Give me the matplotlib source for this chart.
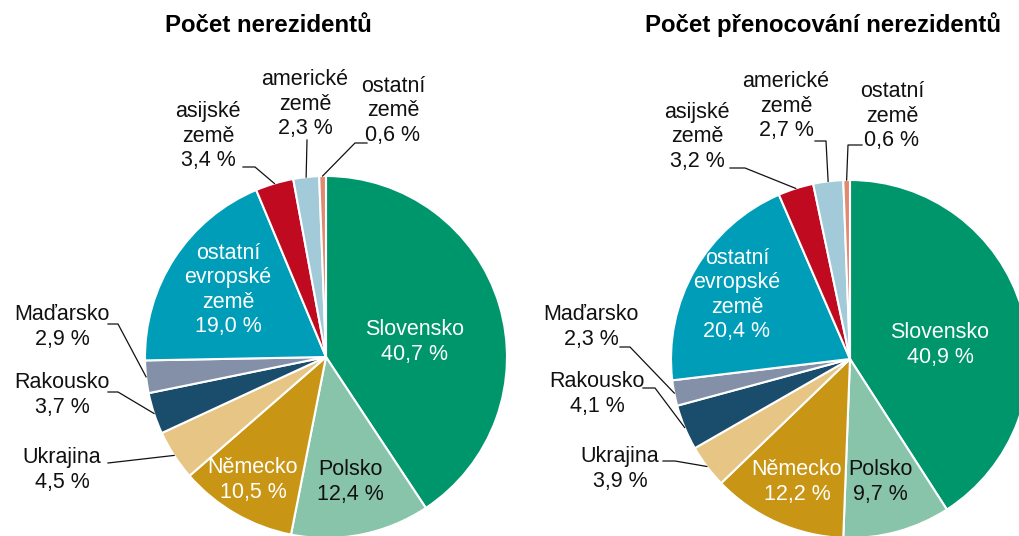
import numpy as np
import matplotlib
matplotlib.use("Agg")
import matplotlib.pyplot as plt

plt.rcParams['font.family'] = ['Liberation Sans', 'DejaVu Sans']

categories = ["Slovensko", "Polsko", "Německo", "Ukrajina", "Rakousko", "Maďarsko",
              "ostatní\nevropské\nzemě", "asijské\nzemě", "americké\nzemě", "ostatní\nzemě"]
titles = ["Počet nerezidentů", "Počet přenocování nerezidentů"]
values_left = [40.7, 12.4, 10.5, 4.5, 3.7, 2.9, 19.0, 3.4, 2.3, 0.6]
values_right = [40.9, 9.7, 12.2, 3.9, 4.1, 2.3, 20.4, 3.2, 2.7, 0.6]
colors = ["#00966C", "#88C4AA", "#C99515", "#E6C585", "#1A4C6C", "#8490A8",
          "#009DB8", "#C00A20", "#A3CAD8", "#E08A70"]
inside = [True, True, True, False, False, False, True, False, False, False]
white_text = [True, False, True, False, False, False, True, False, False, False]

W, H = 1019, 536
fig = plt.figure(figsize=(W / 100, H / 100), dpi=100)
ax = fig.add_axes([0, 0, 1, 1])
ax.set_xlim(0, W)
ax.set_ylim(0, H)
ax.set_aspect('equal')
ax.axis('off')

FS = 15.5


def fmt(v):
    return f"{v:.1f}".replace(".", ",") + " %"


# layout per pie: center(px), radius, title x, label positions (px, text centre), leader stub
layouts = [
    dict(center=(326, 357), r=181, tx=268,
         pos={0: (415, 342), 1: (350, 482), 2: (253, 480), 6: (228, 290),
              3: (62, 470), 4: (62, 395), 5: (62, 327),
              7: (208, 136), 8: (305, 104), 9: (393, 111)},
         stub={3: [(108, 463)], 4: [(108, 392), (118, 392)], 5: [(108, 324), (118, 324)],
               7: [(243, 167), (255, 167)], 8: [(307, 140)], 9: [(367, 143), (355, 143)]}),
    dict(center=(850, 359), r=179, tx=823,
         pos={0: (940, 345), 1: (880, 482), 2: (797, 482), 6: (737, 295),
              3: (620, 469), 4: (597, 394), 5: (591, 327),
              7: (697, 137), 8: (786, 106), 9: (892, 116)},
         stub={3: [(663, 461), (675, 461)], 4: [(643, 388), (655, 388)], 5: [(620, 347), (630, 347)],
               7: [(730, 168), (745, 168)], 8: [(815, 141), (826, 141)], 9: [(862, 145), (848, 145)]}),
]

for vals, lay, title in zip([values_left, values_right], layouts, titles):
    cx, cy = lay["center"]
    r = lay["r"]
    wedges, _ = ax.pie(vals, colors=colors, startangle=90, counterclock=False,
                       center=(cx, H - cy), radius=r, frame=True,
                       wedgeprops=dict(edgecolor="white", linewidth=1.5))
    ax.text(lay["tx"], H - 25, title, ha='center', va='center', fontsize=17.3,
            fontweight='bold', color='black')
    for i, (cat, v) in enumerate(zip(categories, vals)):
        x, y = lay["pos"][i]
        ax.text(x, H - y, cat + "\n" + fmt(v), ha='center', va='center', fontsize=FS,
                linespacing=1.2, color='white' if white_text[i] else '#111111')
        if not inside[i]:
            w = wedges[i]
            th = np.deg2rad((w.theta1 + w.theta2) / 2)
            ex = cx + r * np.cos(th)
            ey = (H - cy) + r * np.sin(th)
            pts = [(px, H - py) for px, py in lay["stub"][i]] + [(ex, ey)]
            xs, ys = zip(*pts)
            ax.plot(xs, ys, color='#111111', lw=0.9)

ax.set_xlim(0, W)
ax.set_ylim(0, H)
ax.axis('off')
fig.savefig("out.png", dpi=100)
